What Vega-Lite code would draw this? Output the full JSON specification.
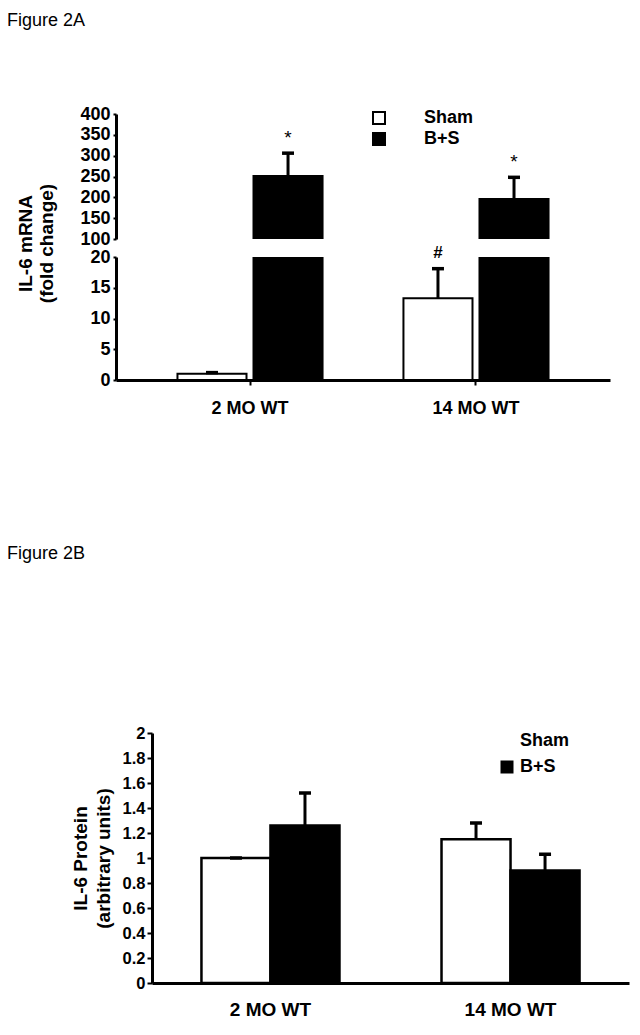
{
  "$schema": "https://vega.github.io/schema/vega-lite/v6.json",
  "padding": {"left": 7, "top": 12, "right": 5, "bottom": 5},
  "background": "white",
  "config": {
    "view": {"stroke": null},
    "font": "Liberation Sans",
    "axis": {"grid": false, "labelFont": "Liberation Sans", "labelFontWeight": "bold", "labelColor": "black", "titleColor": "black", "titleFont": "Liberation Sans", "titleFontWeight": "bold", "domainColor": "black", "tickColor": "black", "labelOverlap": false},
    "legend": {"labelFont": "Liberation Sans", "labelFontWeight": "bold", "labelColor": "black", "padding": 0},
    "title": {"font": "Liberation Sans", "fontWeight": "normal", "color": "black", "fontSize": 18, "anchor": "start", "frame": "group"}
  },
  "datasets": {
    "mrna": [
      {"age": "2 MO WT", "group": "Sham", "mean": 1.0, "err": 1.2, "note": ""},
      {"age": "2 MO WT", "group": "B+S", "mean": 251, "err": 306, "note": "*"},
      {"age": "14 MO WT", "group": "Sham", "mean": 13.3, "err": 18.1, "note": "#"},
      {"age": "14 MO WT", "group": "B+S", "mean": 196, "err": 248, "note": "*"}
    ],
    "protein": [
      {"age": "2 MO WT", "group": "Sham", "mean": 1.0, "err": 1.0},
      {"age": "2 MO WT", "group": "B+S", "mean": 1.26, "err": 1.52},
      {"age": "14 MO WT", "group": "Sham", "mean": 1.15, "err": 1.28},
      {"age": "14 MO WT", "group": "B+S", "mean": 0.9, "err": 1.03}
    ]
  },
  "columns": 1,
  "spacing": 128,
  "resolve": {"scale": {"x": "independent", "y": "independent", "fill": "independent", "xOffset": "independent"}, "legend": {"fill": "independent"}},
  "concat": [
    {
      "title": {"text": "Figure 2A", "dx": -109, "offset": 75},
      "spacing": 18,
      "bounds": "flush",
      "resolve": {"scale": {"y": "independent", "fill": "independent"}, "legend": {"fill": "independent"}},
      "vconcat": [
        {
          "width": 494,
          "height": 125,
          "data": {"name": "mrna"},
          "encoding": {
            "x": {"field": "age", "type": "nominal", "sort": ["2 MO WT", "14 MO WT"], "axis": null, "scale": {"paddingInner": 0.358, "paddingOuter": 0.272}},
            "xOffset": {"field": "group", "sort": ["Sham", "B+S"], "scale": {"paddingInner": 0.092, "paddingOuter": 0}}
          },
          "layer": [
            {
              "mark": {"type": "bar", "clip": true, "stroke": "black", "strokeWidth": 2},
              "encoding": {
                "y": {"field": "mean", "type": "quantitative", "scale": {"domain": [100, 400], "zero": false, "nice": false},
                  "axis": {"title": null, "values": [100, 150, 200, 250, 300, 350, 400], "format": "~g", "tickCount": 50, "labelOverlap": false, "labelFontSize": 18, "domainWidth": 3, "tickSize": 3, "tickWidth": 2, "labelPadding": 3}},
                "fill": {"field": "group", "type": "nominal", "sort": ["Sham", "B+S"], "scale": {"domain": ["Sham", "B+S"], "range": ["white", "black"]},
                  "legend": {"title": null, "orient": "none", "legendX": 254, "legendY": -5, "symbolType": "square", "symbolSize": 144, "symbolStrokeColor": "black", "symbolStrokeWidth": 2, "labelFontSize": 18, "labelOffset": 36, "rowPadding": 1}}
              }
            },
            {
              "mark": {"type": "rule", "clip": true, "strokeWidth": 3, "color": "black"},
              "encoding": {"y": {"field": "mean", "type": "quantitative"}, "y2": {"field": "err"}}
            },
            {
              "mark": {"type": "tick", "clip": true, "orient": "horizontal", "size": 12, "thickness": 3.5, "color": "black", "opacity": 1},
              "encoding": {"y": {"field": "err", "type": "quantitative"}}
            },
            {
              "transform": [{"filter": "datum.note == '*'"}],
              "mark": {"type": "text", "dy": -15, "fontSize": 19, "color": "black", "baseline": "middle"},
              "encoding": {"y": {"field": "err", "type": "quantitative"}, "text": {"field": "note"}}
            }
          ]
        },
        {
          "width": 494,
          "height": 123,
          "data": {"name": "mrna"},
          "encoding": {
            "x": {"field": "age", "type": "nominal", "sort": ["2 MO WT", "14 MO WT"], "scale": {"paddingInner": 0.358, "paddingOuter": 0.272},
              "axis": {"title": null, "labelAngle": 0, "labelFontSize": 18, "labelPadding": 14, "domainWidth": 3, "tickSize": 5, "tickWidth": 2}},
            "xOffset": {"field": "group", "sort": ["Sham", "B+S"], "scale": {"paddingInner": 0.092, "paddingOuter": 0}}
          },
          "layer": [
            {
              "mark": {"type": "bar", "clip": true, "stroke": "black", "strokeWidth": 2},
              "encoding": {
                "y": {"field": "mean", "type": "quantitative", "scale": {"domain": [0, 20], "nice": false},
                  "axis": {"title": ["IL-6 mRNA", "(fold change)"], "titleFontSize": 19, "titleY": -14, "titleX": -81, "titleLineHeight": 21, "values": [0, 5, 10, 15, 20], "format": "~g", "tickCount": 50, "labelOverlap": false, "labelFontSize": 18, "domainWidth": 3, "tickSize": 3, "tickWidth": 2, "labelPadding": 3}},
                "fill": {"field": "group", "type": "nominal", "scale": {"domain": ["Sham", "B+S"], "range": ["white", "black"]}, "legend": null}
              }
            },
            {
              "mark": {"type": "rule", "clip": true, "strokeWidth": 3, "color": "black"},
              "encoding": {"y": {"field": "mean", "type": "quantitative"}, "y2": {"field": "err"}}
            },
            {
              "mark": {"type": "tick", "clip": true, "orient": "horizontal", "size": 12, "thickness": 3.5, "color": "black", "opacity": 1},
              "encoding": {"y": {"field": "err", "type": "quantitative"}}
            },
            {
              "transform": [{"filter": "datum.note == '#'"}],
              "mark": {"type": "text", "dy": -16, "fontSize": 17, "fontWeight": "bold", "color": "black", "baseline": "middle"},
              "encoding": {"y": {"field": "err", "type": "quantitative"}, "text": {"field": "note"}}
            }
          ]
        }
      ]
    },
    {
      "title": {"text": "Figure 2B", "dx": -109, "offset": 162},
      "width": 513,
      "height": 250,
      "data": {"name": "protein"},
      "encoding": {
        "x": {"field": "age", "type": "nominal", "sort": ["2 MO WT", "14 MO WT"], "scale": {"range": [36, 513], "paddingInner": 0.425, "paddingOuter": 0.206},
          "axis": {"title": null, "labelAngle": 0, "labelFontSize": 19, "labelPadding": 17, "domainWidth": 3, "ticks": false}},
        "xOffset": {"field": "group", "sort": ["Sham", "B+S"], "scale": {"paddingInner": 0, "paddingOuter": 0}}
      },
      "layer": [
        {
          "mark": {"type": "bar", "stroke": "black", "strokeWidth": 2.5},
          "encoding": {
            "y": {"field": "mean", "type": "quantitative", "scale": {"domain": [0, 2], "nice": false},
              "axis": {"offset": -36, "title": ["IL-6 Protein", "(arbitrary units)"], "titleFontSize": 19, "titleLineHeight": 23, "titleX": -62, "values": [0, 0.2, 0.4, 0.6, 0.8, 1, 1.2, 1.4, 1.6, 1.8, 2], "tickCount": 50, "labelOverlap": false, "format": "~g", "labelFontSize": 16.5, "domainWidth": 3, "tickSize": 5, "tickWidth": 2, "labelPadding": 2}},
            "fill": {"field": "group", "type": "nominal", "sort": ["Sham", "B+S"], "scale": {"domain": ["Sham", "B+S"], "range": ["white", "black"]},
              "legend": {"title": null, "orient": "none", "legendX": 382, "legendY": -1, "symbolType": "square", "symbolSize": 169, "symbolStrokeWidth": 0, "labelFontSize": 18, "labelOffset": 4, "rowPadding": 8}}
          }
        },
        {
          "mark": {"type": "rule", "strokeWidth": 3, "color": "black"},
          "encoding": {"y": {"field": "mean", "type": "quantitative"}, "y2": {"field": "err"}}
        },
        {
          "mark": {"type": "tick", "orient": "horizontal", "size": 12, "thickness": 3.5, "color": "black", "opacity": 1},
          "encoding": {"y": {"field": "err", "type": "quantitative"}}
        }
      ]
    }
  ]
}
